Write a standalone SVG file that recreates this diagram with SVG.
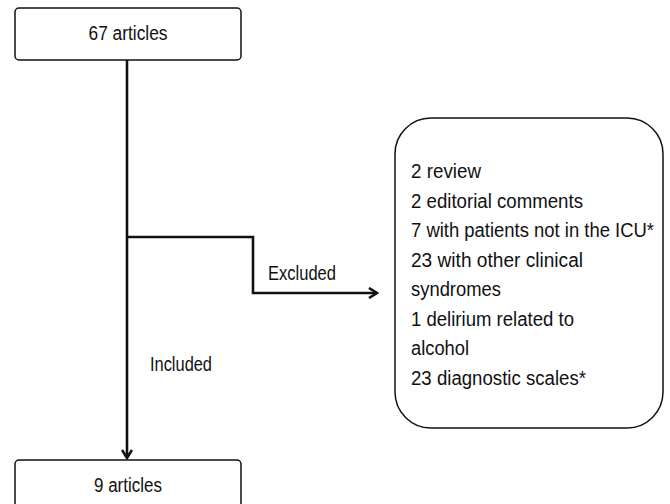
<svg xmlns="http://www.w3.org/2000/svg" width="670" height="504" viewBox="0 0 670 504">
<defs>
<style>
.box{fill:#fff;stroke:#111;stroke-width:1.5}
.conn{fill:none;stroke:#111;stroke-width:2.6}
text{font-family:"Liberation Sans",Arial,sans-serif;font-size:19.5px;fill:#111}
.c{text-anchor:middle}
</style>
<marker id="arr" viewBox="0 0 12 12" refX="10" refY="6" markerWidth="12" markerHeight="12" markerUnits="userSpaceOnUse" orient="auto">
<path d="M2,1 L10,6 L2,11" fill="none" stroke="#111" stroke-width="2.6"/>
</marker>
</defs>
<rect width="670" height="504" fill="#fff"/>
<g id="connectors">
<line class="conn" x1="127" y1="60" x2="127" y2="458" marker-end="url(#arr)"/>
<polyline class="conn" points="127,237 253,237 253,293 377,293" marker-end="url(#arr)"/>
<text x="268" y="280" textLength="68" lengthAdjust="spacingAndGlyphs">Excluded</text>
<text x="150" y="371" textLength="62" lengthAdjust="spacingAndGlyphs">Included</text>
</g>
<g id="node-67">
<rect class="box" x="15" y="8" width="226" height="52" rx="4"/>
<text class="c" x="128" y="40" textLength="79" lengthAdjust="spacingAndGlyphs">67 articles</text>
</g>
<g id="node-9">
<rect class="box" x="15" y="460" width="226" height="52" rx="4"/>
<text class="c" x="128" y="492" textLength="68" lengthAdjust="spacingAndGlyphs">9 articles</text>
</g>
<g id="node-excluded">
<rect class="box" x="395" y="118" width="268" height="310" rx="36"/>
<text x="411" y="178" textLength="70" lengthAdjust="spacingAndGlyphs">2 review</text>
<text x="411" y="207.5" textLength="172" lengthAdjust="spacingAndGlyphs">2 editorial comments</text>
<text x="411" y="237" textLength="243" lengthAdjust="spacingAndGlyphs">7 with patients not in the ICU*</text>
<text x="411" y="266.5" textLength="172" lengthAdjust="spacingAndGlyphs">23 with other clinical</text>
<text x="411" y="296" textLength="90" lengthAdjust="spacingAndGlyphs">syndromes</text>
<text x="411" y="325.5" textLength="163" lengthAdjust="spacingAndGlyphs">1 delirium related to</text>
<text x="411" y="355" textLength="58" lengthAdjust="spacingAndGlyphs">alcohol</text>
<text x="411" y="384.5" textLength="175" lengthAdjust="spacingAndGlyphs">23 diagnostic scales*</text>
</g>
</svg>
